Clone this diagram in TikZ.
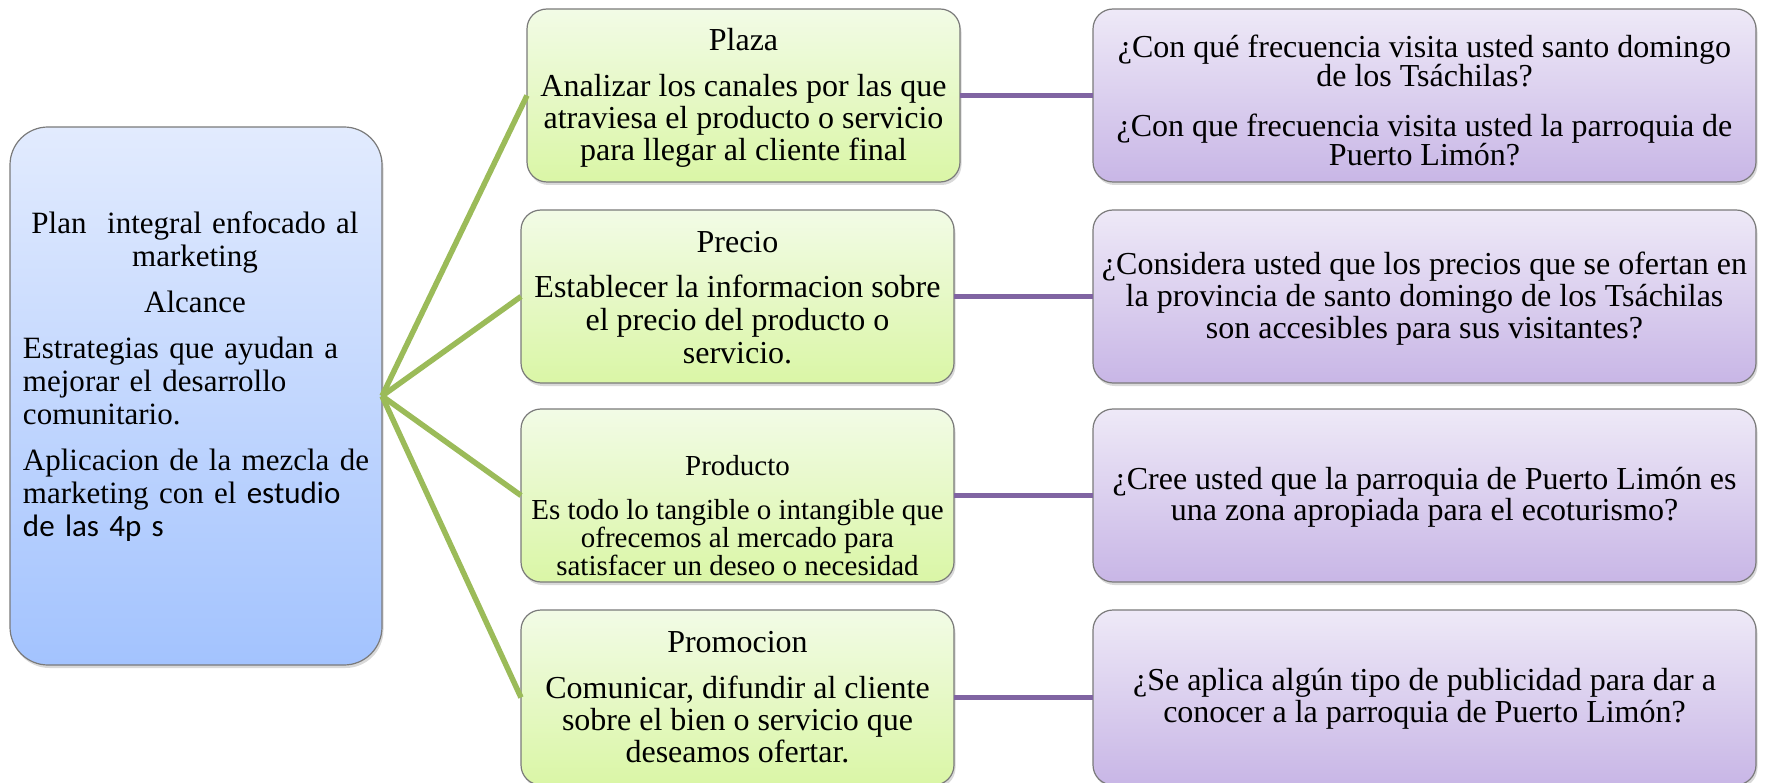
\documentclass[tikz,border=0pt]{standalone}
\usepackage{fontspec}
\setmainfont{Liberation Serif}
\newfontfamily\calib{Carlito}
\usetikzlibrary{shadows}
\definecolor{glinec}{HTML}{9BBB59}
\definecolor{plinec}{HTML}{8064A2}
\definecolor{boxborder}{HTML}{7A7A7A}
\definecolor{blueT}{RGB}{226,235,254}
\definecolor{blueB}{RGB}{163,195,254}
\definecolor{greenT}{RGB}{242,251,230}
\definecolor{greenB}{RGB}{218,246,166}
\definecolor{purT}{RGB}{238,233,247}
\definecolor{purB}{RGB}{200,182,230}
\lineskiplimit=-100pt
\begin{document}
\begin{tikzpicture}[x=1pt,y=-1pt,
  box/.style={draw=boxborder, line width=1.2pt, rounded corners=20pt, inner sep=0pt, outer sep=0pt,
    drop shadow={shadow xshift=1.5pt, shadow yshift=-3pt, opacity=0.3}},
  bluebox/.style={box, rounded corners=38pt, top color=blueT, bottom color=blueB},
  greenbox/.style={box, top color=greenT, bottom color=greenB, minimum width=433pt, minimum height=173pt},
  purplebox/.style={box, top color=purT, bottom color=purB, minimum width=663pt, minimum height=173pt},
  gconn/.style={draw=glinec, line width=5.5pt},
  pconn/.style={draw=plinec, line width=5pt},
  txt/.style={inner sep=0pt, align=center}]
\useasboundingbox (0,0) rectangle (1769,783);
% boxes
\node[bluebox, minimum width=372pt, minimum height=538pt] (plan) at (196,396) {};
\node[greenbox] (plaza) at (743.5,95.5) {};
\node[greenbox] (precio) at (737.5,296.5) {};
\node[greenbox] (producto) at (737.5,495.5) {};
\node[greenbox, minimum height=175pt] (promo) at (737.5,697.5) {};
\node[purplebox] (q1) at (1424.5,95.5) {};
\node[purplebox] (q2) at (1424.5,296.5) {};
\node[purplebox] (q3) at (1424.5,495.5) {};
\node[purplebox, minimum height=175pt] (q4) at (1424.5,697.5) {};
% connectors
\draw[gconn] (plan.east) -- (plaza.west);
\draw[gconn] (plan.east) -- (precio.west);
\draw[gconn] (plan.east) -- (producto.west);
\draw[gconn] (plan.east) -- (promo.west);
\draw[pconn] (plaza.east) -- (q1.west);
\draw[pconn] (precio.east) -- (q2.west);
\draw[pconn] (producto.east) -- (q3.west);
\draw[pconn] (promo.east) -- (q4.west);
% texts
\node[inner sep=0pt, text width=350pt, font=\fontsize{31}{33}\selectfont] (plant) at (198,377) {%
\setlength{\parindent}{0pt}%
{\centering\hspace*{-6pt}Plan~~integral enfocado al\\\hspace*{-6pt}marketing\par}\vspace{13pt}%
{\centering\hspace*{-6pt}Alcance\par}\vspace{13pt}%
{\raggedright Estrategias que ayudan a\\ mejorar el desarrollo\\ comunitario.\par}\vspace{13pt}%
{\raggedright \mbox{Aplicacion de la mezcla de}\\ marketing con el {\calib estudio}\\ {\calib de las 4p s}\par}};
\node[txt, font=\fontsize{32}{32}\selectfont] (plazat) at (743.5,98) {Plaza\\[14pt]Analizar los canales por las que\\atraviesa el producto o servicio\\para llegar al cliente final};
\node[txt, font=\fontsize{32}{33}\selectfont] (preciot) at (737.5,298) {Precio\\[12pt]Establecer la informacion sobre\\el precio del producto o\\servicio.};
\node[txt, font=\fontsize{29}{28}\selectfont] (productot) at (737.5,516) {Producto\\[16pt]Es todo lo tangible o intangible que\\ofrecemos al mercado para\\satisfacer un deseo o necesidad};
\node[txt, font=\fontsize{32}{32}\selectfont] (promot) at (737.5,697.5) {Promocion\\[14pt]Comunicar, difundir al cliente\\sobre el bien o servicio que\\deseamos ofertar.};
\node[txt, font=\fontsize{32}{29}\selectfont] (q1t) at (1424.5,100) {¿Con qué frecuencia visita usted santo domingo\\de los Tsáchilas?\\[21pt]¿Con que frecuencia visita usted la parroquia de\\Puerto Limón?};
\node[txt, font=\fontsize{32}{32}\selectfont] (q2t) at (1424.5,299) {¿Considera usted que los precios que se ofertan en\\la provincia de santo domingo de los Tsáchilas\\son accesibles para sus visitantes?};
\node[txt, font=\fontsize{32}{31}\selectfont] (q3t) at (1424.5,497.5) {¿Cree usted que la parroquia de Puerto Limón es\\una zona apropiada para el ecoturismo?};
\node[txt, font=\fontsize{32}{32}\selectfont] (q4t) at (1424.5,699) {¿Se aplica algún tipo de publicidad para dar a\\conocer a la parroquia de Puerto Limón?};
\end{tikzpicture}
\end{document}
